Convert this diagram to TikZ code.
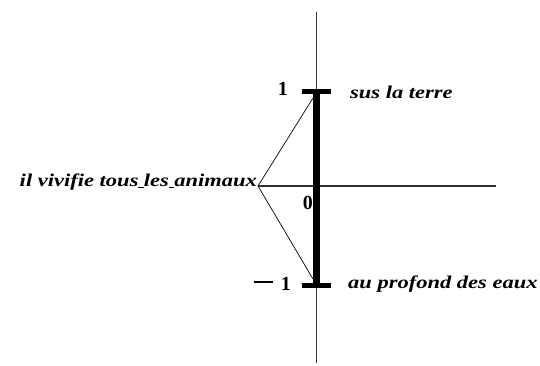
\documentclass[tikz,border=0pt]{standalone}
\usepackage{fontspec}
\setmainfont{Liberation Serif}
\newfontfamily\labfont[FakeStretch=1.25]{Liberation Serif}
\newcommand\uspace{\rule[-1.5pt]{0.3em}{0.9pt}}
\begin{document}
\begin{tikzpicture}[x=1pt,y=-1pt,
  axis/.style={line width=1.3pt,draw=black!80},
  thin/.style={line width=0.7pt},
  bar/.style={line width=7pt},
  tick/.style={line width=5pt},
  lab/.style={font=\labfont\fontsize{18}{20}\selectfont\bfseries\itshape,inner sep=0pt},
  num/.style={font=\fontsize{20}{22}\selectfont\bfseries,inner sep=0pt}]
\useasboundingbox (0,0) rectangle (540,365);
\coordinate (vtop) at (316.5,12);
\coordinate (vbot) at (316.5,363);
\coordinate (hl) at (258,186);
\coordinate (hr) at (496,186);
\coordinate (ptop) at (316.5,91.5);
\coordinate (pbot) at (316.5,285.5);
\coordinate (tl) at (302,91.5);
\coordinate (tr) at (331,91.5);
\coordinate (bl) at (302,285.5);
\coordinate (br) at (331,285.5);
\coordinate (dtop) at (313,98);
\coordinate (dbot) at (313,279);
\draw[axis] (vtop) -- (vbot);
\draw[axis] (hl) -- (hr);
\draw[bar] (ptop) -- (pbot);
\draw[tick] (tl) -- (tr);
\draw[tick] (bl) -- (br);
\draw[thin] (dtop) -- (hl) -- (dbot);
\node[num,anchor=base east] (one) at (288,95) {1};
\node[num,anchor=base east] (mone) at (291,290) {\rule[7.5pt]{19pt}{1.2pt}\hspace{8pt}1};
\node[num,anchor=base east] (zero) at (313,209) {0};
\node[lab,anchor=base west] (t1) at (350,98) {sus la terre};
\node[lab,anchor=base west] (t2) at (348,288) {au profond des eaux};
\node[lab,anchor=base east] (t3) at (257,186) {il vivifie tous\uspace les\uspace animaux};
\end{tikzpicture}
\end{document}
